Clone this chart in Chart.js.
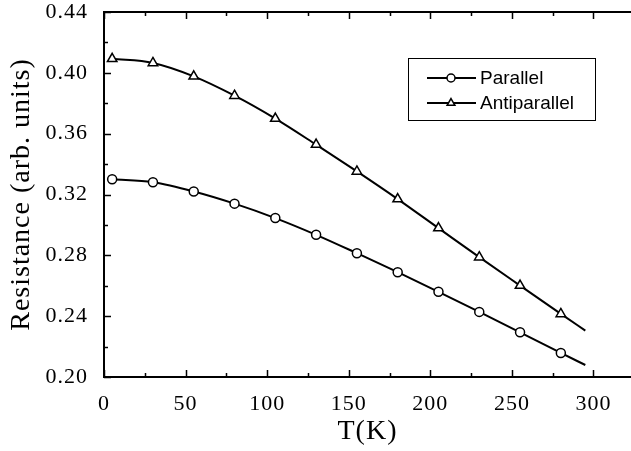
<!DOCTYPE html>
<html>
<head>
<meta charset="utf-8">
<script src="https://cdn.jsdelivr.net/npm/chart.js@4/dist/chart.umd.min.js"></script>
<style>
  html, body { margin: 0; padding: 0; background: #fff; }
  #wrap { width: 631px; height: 451px; position: relative; }
</style>
</head>
<body>
<div id="wrap"><canvas id="resistance"></canvas></div>
<script>
// temperatures of the markers (K); the fitted curve runs on to 295 K
const temps = [5, 30, 55, 80, 105, 130, 155, 180, 205, 230, 255, 280, 295];
const parallel = [0.330, 0.328, 0.322, 0.314, 0.3045, 0.2935, 0.2814, 0.2689, 0.256, 0.2428, 0.2294, 0.2158, 0.2079];
const antiparallel = [0.4092, 0.4065, 0.3977, 0.385, 0.3699, 0.3528, 0.3352, 0.317, 0.2979, 0.2788, 0.2601, 0.2415, 0.2305];
const seriesNames = ["Parallel", "Antiparallel"];
const xTickLabels = [0, 50, 100, 150, 200, 250, 300];
const yTickLabels = ["0.20", "0.24", "0.28", "0.32", "0.36", "0.40", "0.44"];

const serif = "'Liberation Serif', 'Times New Roman', serif";
const sans = "'Liberation Sans', Arial, sans-serif";

function pts(vals) {
	return temps.map((t, i) => ({ x: t, y: vals[i] }));
}
// no marker on the last point (end of fit curve)
function radii(r) {
	return temps.map((t, i) => (i === temps.length - 1 ? 0 : r));
}

const near = (v, step) => Math.abs(Math.round(v / step) * step - v) < 1e-6;

// major labels plus the minor steps between them
function withMinor(labels) {
	const out = [];
	labels.forEach((v, i) => {
		out.push({ value: v });
		if (i < labels.length - 1) out.push({ value: (v + labels[i + 1]) / 2 });
	});
	return out;
}

// inward ticks (major + minor) on bottom, top and left, plus the top frame line
const frameTicks = {
	id: "frameTicks",
	beforeDraw(chart) {
		chart.ctx.letterSpacing = "1px";
	},
	afterDraw(chart) {
		const ctx = chart.ctx;
		const { left, right, top, bottom } = chart.chartArea;
		const xs = chart.scales.x, ys = chart.scales.y;
		ctx.save();
		ctx.letterSpacing = "0px";
		ctx.strokeStyle = "#000";
		ctx.lineWidth = 2;
		ctx.beginPath();
		ctx.moveTo(left - 1, top);
		ctx.lineTo(right, top);
		ctx.stroke();
		ctx.lineWidth = 1.5;
		xs.ticks.forEach((t) => {
			const px = Math.round(xs.getPixelForValue(t.value)) + 0.5;
			const len = near(t.value, 50) ? 7 : 4;
			ctx.beginPath();
			ctx.moveTo(px, bottom);
			ctx.lineTo(px, bottom - len);
			ctx.moveTo(px, top);
			ctx.lineTo(px, top + len);
			ctx.stroke();
		});
		ys.ticks.forEach((t) => {
			const py = Math.round(ys.getPixelForValue(t.value)) + 0.5;
			const len = near(t.value, 0.04) ? 7 : 4;
			ctx.beginPath();
			ctx.moveTo(left, py);
			ctx.lineTo(left + len, py);
			ctx.stroke();
		});
		ctx.restore();
	},
};

// boxed legend with line + marker samples
const boxLegend = {
	id: "boxLegend",
	afterDraw(chart) {
		const ctx = chart.ctx;
		const { left, top } = chart.chartArea;
		const bx = left + 304, by = top + 46, bw = 187, bh = 62;
		ctx.save();
		ctx.letterSpacing = "0px";
		ctx.fillStyle = "#fff";
		ctx.fillRect(bx, by, bw, bh);
		ctx.strokeStyle = "#000";
		ctx.lineWidth = 1;
		ctx.strokeRect(bx + 0.5, by + 0.5, bw, bh);
		ctx.font = "19px " + sans;
		ctx.textBaseline = "middle";
		chart.data.datasets.forEach((ds, i) => {
			const ry = by + 20 + i * 25;
			ctx.strokeStyle = "#000";
			ctx.lineWidth = 2;
			ctx.beginPath();
			ctx.moveTo(bx + 19, ry);
			ctx.lineTo(bx + 68, ry);
			ctx.stroke();
			ctx.fillStyle = "#fff";
			ctx.lineWidth = 1.5;
			Chart.helpers.drawPoint(ctx, { pointStyle: ds.pointStyle, radius: ds.pointStyle === "triangle" ? 4.5 : 4, rotation: 0, borderWidth: 1.5 }, bx + 43, ry);
			ctx.fillStyle = "#000";
			ctx.fillText(ds.label, bx + 72, ry + 1);
		});
		ctx.restore();
	},
};

function makeSet(name, vals, style, r) {
	return {
		label: name,
		data: pts(vals),
		borderColor: "#000",
		borderWidth: 2,
		backgroundColor: "#fff",
		pointStyle: style,
		pointRadius: radii(r),
		pointHoverRadius: radii(r),
		pointBorderWidth: 1.5,
		pointBorderColor: "#000",
		pointBackgroundColor: "#fff",
		cubicInterpolationMode: "monotone",
		fill: false,
		clip: false,
	};
}

new Chart(document.getElementById("resistance").getContext("2d"), {
	type: "line",
	data: {
		datasets: [
			makeSet(seriesNames[0], parallel, "circle", 4.5),
			makeSet(seriesNames[1], antiparallel, "triangle", 5.5),
		],
	},
	options: {
		responsive: true,
		maintainAspectRatio: false,
		animation: false,
		events: [],
		layout: { autoPadding: false, padding: { top: 12, right: 0, left: 0, bottom: 0 } },
		plugins: {
			legend: { display: false },
			tooltip: { enabled: false },
		},
		scales: {
			x: {
				type: "linear",
				min: 0,
				max: 323,
				afterBuildTicks: (s) => { s.ticks = withMinor(xTickLabels); },
				afterFit: (s) => {
					s.height = 74;
					s.paddingLeft = 0;
					s.paddingRight = 0;
				},
				border: { display: true, color: "#000", width: 2 },
				grid: { display: true, drawOnChartArea: false, drawTicks: false, color: "rgba(0,0,0,0)" },
				ticks: {
					padding: 14,
					maxRotation: 0,
					autoSkip: false,
					color: "#000",
					font: { family: serif, size: 22 },
					callback: (v) => (xTickLabels.includes(v) ? String(v) : ""),
				},
				title: {
					display: true,
					text: "T(K)",
					color: "#000",
					font: { family: serif, size: 28 },
					padding: { top: 0, bottom: 3 },
				},
			},
			y: {
				min: 0.2,
				max: 0.44,
				afterBuildTicks: (s) => { s.ticks = withMinor(yTickLabels.map(Number)); },
				afterFit: (s) => {
					s.width = 104;
					s.paddingTop = 0;
					s.paddingBottom = 0;
				},
				border: { display: true, color: "#000", width: 2 },
				grid: { display: true, drawOnChartArea: false, drawTicks: false, color: "rgba(0,0,0,0)" },
				ticks: {
					padding: 16,
					autoSkip: false,
					color: "#000",
					font: { family: serif, size: 22 },
					callback: (v) => {
						const s = v.toFixed(2);
						return near(v, 0.04) && yTickLabels.includes(s) ? s : "";
					},
				},
				title: {
					display: true,
					text: "Resistance (arb. units)",
					color: "#000",
					font: { family: serif, size: 28 },
					padding: { top: 5, bottom: 0 },
				},
			},
		},
	},
	plugins: [frameTicks, boxLegend],
});
</script>
</body>
</html>
